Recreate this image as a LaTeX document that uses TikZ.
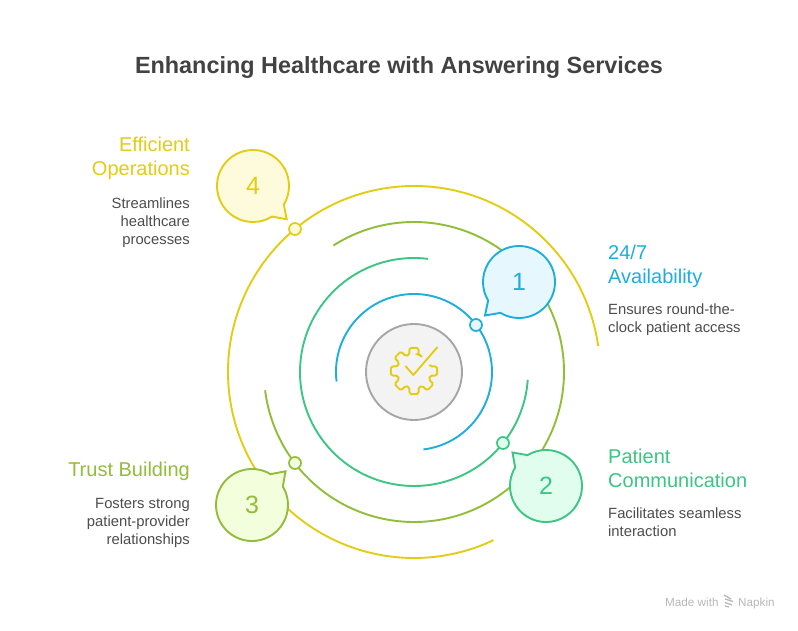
\documentclass[tikz,border=0pt]{standalone}
\usepackage{fontspec}
\setmainfont{Liberation Sans}
\definecolor{cblue}{HTML}{1EAEDB}\definecolor{fblue}{HTML}{E6F8FE}
\definecolor{cgreen}{HTML}{3CC583}\definecolor{fgreen}{HTML}{E0FDEE}
\definecolor{colive}{HTML}{92BD39}\definecolor{folive}{HTML}{F3FEDD}
\definecolor{cyell}{HTML}{E3CD14}\definecolor{fyell}{HTML}{FEFBDC}
\definecolor{ctitle}{HTML}{424242}\definecolor{cdesc}{HTML}{4D4D4D}
\definecolor{cmark}{HTML}{B8B8B8}
\definecolor{chub}{HTML}{A6A6A6}\definecolor{fhub}{HTML}{F3F3F3}
\tikzset{
  ring/.style={line width=1.9pt,line cap=butt},
  dot/.style={circle,draw=c#1,fill=f#1,line width=1.7pt,minimum size=12pt,inner sep=0pt},
  num/.style={text=#1,font=\fontsize{25}{25}\selectfont,inner sep=0pt,circle,minimum size=72pt},
  headl/.style={text=#1,font=\fontsize{20}{24}\selectfont,inner sep=0pt,align=left,anchor=north west},
  headr/.style={text=#1,font=\fontsize{20}{24}\selectfont,inner sep=0pt,align=right,anchor=north east},
  descl/.style={text=cdesc,font=\fontsize{14.8}{18}\selectfont,inner sep=0pt,align=left,anchor=north west},
  descr/.style={text=cdesc,font=\fontsize{14.8}{18}\selectfont,inner sep=0pt,align=right,anchor=north east},
  mark text/.style={text=cmark,font=\fontsize{11.7}{13}\selectfont,inner sep=0pt,anchor=base west},
}
% \bubble{center}{colour suffix}{start}{end}{tip offset}
\newcommand\bubble[5]{%
  \draw[draw=c#2,fill=f#2,line width=1.9pt,line join=miter]
    ([shift={(#3:36)}]#1) arc[start angle=#3,end angle=#4,radius=36] -- ([shift={#5}]#1) -- cycle;}
\begin{document}
\begin{tikzpicture}[x=1pt,y=1pt]
\useasboundingbox (0,0) rectangle (798,630);
\fill[white] (0,0) rectangle (798,630);
\coordinate (o) at (414,258);
% rings
\draw[ring,cblue] ([shift={(187:78)}]o) arc[start angle=187,end angle=-83,radius=78];
\draw[ring,cgreen] ([shift={(83:114)}]o) arc[start angle=83,end angle=356,radius=114];
\draw[ring,colive] ([shift={(122.5:150)}]o) arc[start angle=122.5,end angle=-173,radius=150];
\draw[ring,cyell] ([shift={(8:186)}]o) arc[start angle=8,end angle=295.3,radius=186];
% centre
\node[circle,draw=chub,fill=fhub,line width=1.9pt,minimum size=96pt,inner sep=0pt] (hub) at (o) {};
\begin{scope}[shift={(414,259)},line width=1.9pt]
\draw[cyell,rounded corners=1.5pt]
  (60:16.5) -- (75:17) \foreach \t in {90,135,180,225,270,315,360} {
    -- (\t-16:17) -- (\t-11:23.5) -- (\t+11:23.5) -- (\t+16:17)} -- (22:16.5);
\draw[cyell,line join=round,line cap=round] (-8.3,4.7) -- (-0.7,-4) -- (23.3,23.7);
\end{scope}
% bubbles
\coordinate (c1) at (519,348);\coordinate (c2) at (546,144);
\coordinate (c3) at (252,125);\coordinate (c4) at (253,444);
\bubble{c1}{blue}{-121}{211}{(-34,-33.5)}
\bubble{c2}{green}{149}{481}{(-33.5,33.5)}
\bubble{c3}{olive}{59}{391}{(33.5,33.7)}
\bubble{c4}{yell}{-31}{302}{(33.7,-33.3)}
\node[num=cblue] (n1) at (c1) {1};
\node[num=cgreen] (n2) at (c2) {2};
\node[num=colive] (n3) at (c3) {3};
\node[num=cyell] (n4) at (c4) {4};
% dots
\node[dot=blue] (d1) at (476,305) {};
\node[dot=green] (d2) at (503,187) {};
\node[dot=olive] (d3) at (295,167) {};
\node[dot=yell] (d4) at (295,401) {};
% text
\node[text=ctitle,font=\bfseries\fontsize{23.4}{28}\selectfont,inner sep=0pt] (title) at (399,562) {Enhancing Healthcare with Answering Services};
\node[headl=cblue] (h1) at (608,385) {24/7\\Availability};
\node[descl] (t1) at (608,326.5) {Ensures round-the-\\clock patient access};
\node[headr=colive] (h3) at (190,168.5) {Trust Building};
\node[headl=cgreen] (h2) at (608,181) {Patient\\Communication};
\node[descl] (t2) at (608,122) {Facilitates seamless\\interaction};
\node[descr] (t3) at (190,131.5) {Fosters strong\\patient-provider\\relationships};
\node[headr=cyell] (h4) at (190,493) {Efficient\\Operations};
\node[descr] (t4) at (190,432.5) {Streamlines\\healthcare\\processes};
% watermark
\node[mark text] (m1) at (665,24) {Made with};
\node[mark text] (m2) at (738,24) {Napkin};
\draw[cmark,line width=1.3pt] (724,35) -- (731,31) (725,31) -- (733,28.5) (725,27.5) -- (732,25) (725,24) -- (729,23);
\end{tikzpicture}
\end{document}
